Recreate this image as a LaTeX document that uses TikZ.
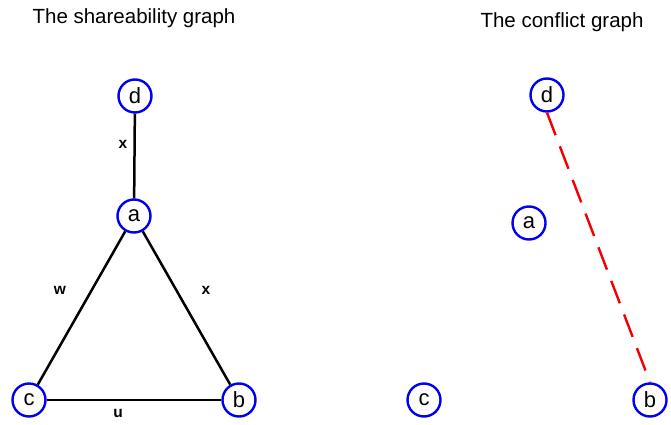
\documentclass[tikz,border=0pt]{standalone}
\usepackage{fontspec}
\setmainfont{Liberation Sans}
\usepackage{xcolor}
\usetikzlibrary{positioning, arrows.meta}
\definecolor{vertexBlue}{HTML}{0000F0}
\definecolor{conflictRed}{HTML}{F00000}

\begin{document}
\begin{tikzpicture}[
  x=1pt, y=-1pt,
  vertex/.style={
    circle, draw=vertexBlue, line width=2.4pt,
    minimum size=33pt, inner sep=0pt,
    font=\fontsize{22}{22}\selectfont
  },
  shareedge/.style={black, line width=2.5pt},
  conflictedge/.style={conflictRed, line width=2.4pt, dash pattern=on 24pt off 12pt},
  edgelabel/.style={font=\fontsize{15.5}{15.5}\selectfont\bfseries},
  title/.style={font=\fontsize{20.5}{20.5}\selectfont},
]
\useasboundingbox (0,0) rectangle (671,425);

% === Titles ===
\node[title] (ttlshare) at (134,18) {The shareability graph};
\node[title] (ttlconf) at (562,22) {The conflict graph};

% === Shareability graph ===
\node[vertex] (sd) at (135,96) {d};
\node[vertex] (sa) at (134,216) {a};
\node[vertex] (sc) at (29,400) {c};
\node[vertex] (sb) at (239,400) {b};

\draw[shareedge] (sd) -- (sa);
\draw[shareedge] (sa) -- (sc);
\draw[shareedge] (sa) -- (sb);
\draw[shareedge] (sc) -- (sb);

\node[edgelabel] (lx1) at (123,144) {x};
\node[edgelabel] (lw) at (60,290) {w};
\node[edgelabel] (lx2) at (206,290) {x};
\node[edgelabel] (lu) at (118,413) {u};

% === Conflict graph ===
\node[vertex] (cd) at (547,95) {d};
\node[vertex] (ca) at (529,223) {a};
\node[vertex] (cc) at (424,400) {c};
\node[vertex] (cb) at (650,400) {b};

\draw[conflictedge] (cd.south) -- (cb.north);

\end{tikzpicture}
\end{document}
